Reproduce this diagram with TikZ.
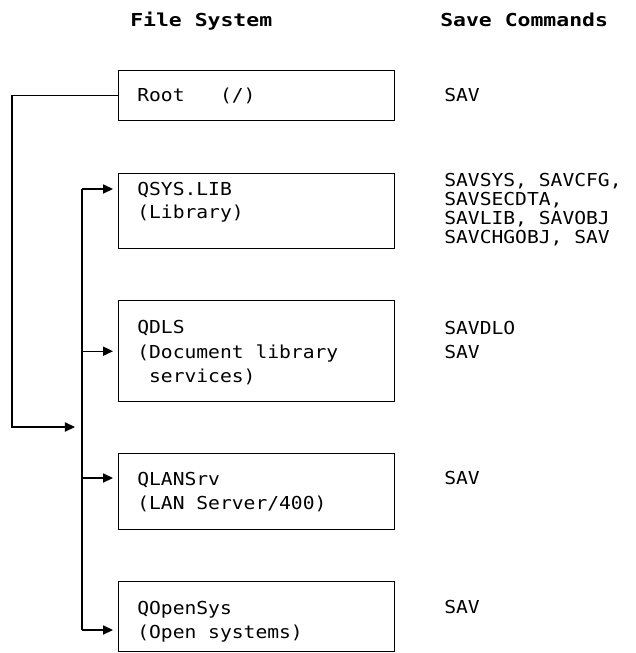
\documentclass[tikz,border=0pt]{standalone}
\usepackage{fontspec}
\usepackage{tikz}
\usetikzlibrary{arrows.meta,positioning}
\newfontfamily\fsmono{DejaVu Sans Mono}[FakeStretch=1.1]
\newfontfamily\fshead{DejaVu Sans Mono}[FakeStretch=1.2]
\tikzset{
  ar/.style={-{Triangle[length=2.5mm,width=2.3mm]},line width=0.8pt,shorten >=1.25mm},
  ln/.style={line width=0.8pt},
  box/.style={draw,line width=1pt,anchor=north west,minimum width=69mm,inner sep=0pt},
  txt/.style={font={\fsmono\fontsize{12.7}{17.4}\selectfont},anchor=base west,align=left,inner sep=0pt},
  cmd/.style={txt,font={\fsmono\fontsize{12.7}{13.5}\selectfont}},
  hd/.style={font={\fshead\bfseries\fontsize{12.7}{15}\selectfont},anchor=base west,inner sep=0pt}
}
\begin{document}
\begin{tikzpicture}[x=0.25mm,y=-0.25mm]
\useasboundingbox (0,0) rectangle (636,653);
% headings
\node[hd] (fshd) at (130,26.5) {File System};
\node[hd] (savhd) at (440,26.5) {Save Commands};
% file system boxes
\node[box,minimum height=12.5mm] (root) at (118,70) {};
\node[box,minimum height=18.75mm] (qsys) at (118,173) {};
\node[box,minimum height=25.25mm] (qdls) at (118,300) {};
\node[box,minimum height=19mm] (qlan) at (118,453) {};
\node[box,minimum height=17.5mm] (qopen) at (118,581) {};
% labels sit on the baseline of their last line
\node[txt] (rootlbl) at (137,101.5) {Root\ \ \ (/)};
\node[txt,font={\fsmono\fontsize{12.7}{16.3}\selectfont}] (qsyslbl) at (137,218.5) {QSYS.LIB\\(Library)};
\node[txt] (qdlslbl) at (137,382.5) {QDLS\\(Document library\\\hphantom{x}services)};
\node[txt] (qlanlbl) at (137,509.5) {QLANSrv\\(LAN Server/400)};
\node[txt] (qopenlbl) at (137,638.5) {QOpenSys\\(Open systems)};
% save commands
\node[cmd] (rootsav) at (444,101.5) {SAV};
\node[cmd] (qsyssav) at (444,243.5) {SAVSYS, SAVCFG,\\SAVSECDTA,\\SAVLIB, SAVOBJ\\SAVCHGOBJ, SAV};
\node[txt] (qdlssav) at (444,358.5) {SAVDLO\\SAV};
\node[cmd] (qlansav) at (444,484.5) {SAV};
\node[cmd] (qopensav) at (444,613.5) {SAV};
% connectors
\coordinate (turn) at (12,427);
\coordinate (join) at (82,427);
\coordinate (bustop) at (82,189);
\coordinate (lanin) at (82,478);
\coordinate (busbot) at (82,630);
\draw[ar,shorten >=1.75mm] (root.west) -| (turn) -- (join);
\draw[ln] (bustop) -- (busbot);
\draw[ar] (bustop) -- (bustop -| qsys.west);
\draw[ar] (qdls.west -| bustop) -- (qdls.west);
\draw[ar] (lanin) -- (lanin -| qlan.west);
\draw[ar] (busbot) -- (busbot -| qopen.west);
\end{tikzpicture}
\end{document}
